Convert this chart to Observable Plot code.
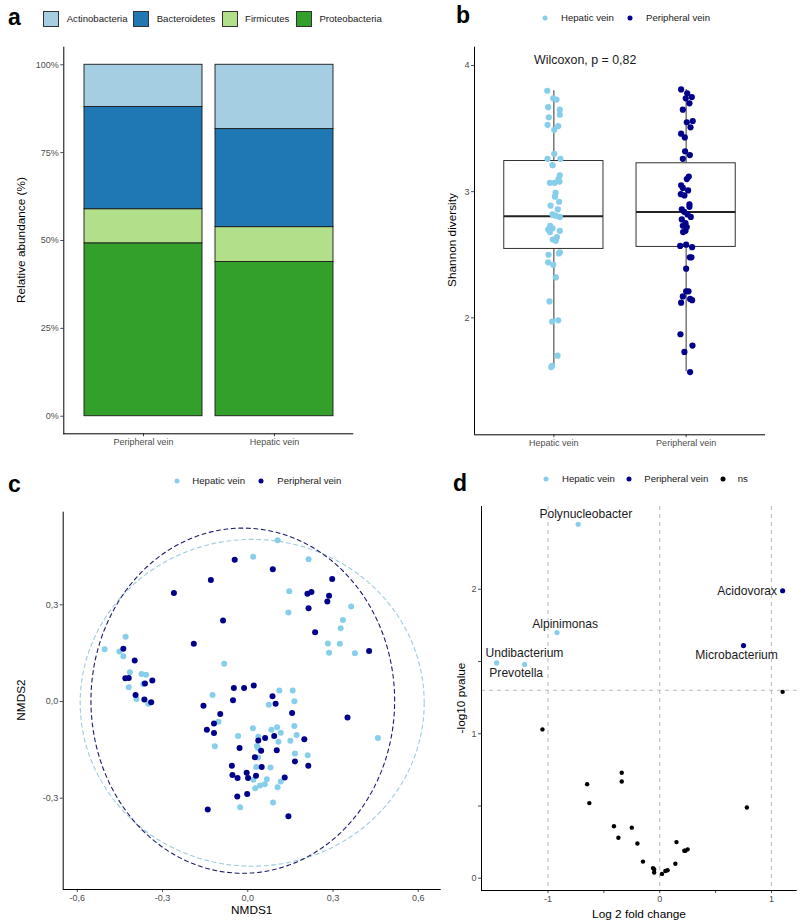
<!DOCTYPE html>
<html><head><meta charset="utf-8">
<script src="https://cdn.jsdelivr.net/npm/d3@7"></script>
<script src="https://cdn.jsdelivr.net/npm/@observablehq/plot@0.6"></script>
<style>
body{margin:0;background:#fff;font-family:"Liberation Sans",Arial,sans-serif;}
#root{position:relative;width:800px;height:924px;overflow:hidden;background:#fff;}
.panel{position:absolute;}
.letter{position:absolute;font-weight:bold;font-size:23px;color:#000;line-height:1;transform:translateY(-50%);}
.leg{position:absolute;font-size:9.6px;color:#1a1a1a;white-space:nowrap;line-height:1;transform:translateY(-50%);}
.sq{position:absolute;width:16px;height:16px;box-sizing:border-box;border:1px solid #333;}
.dotk{position:absolute;width:5px;height:5px;border-radius:50%;transform:translate(-50%,-50%);}
.title{position:absolute;font-size:11.8px;color:#000;white-space:nowrap;line-height:1;transform:translate(-50%,-50%);}
.vtitle{transform:translate(-50%,-50%) rotate(-90deg);}
</style></head>
<body><div id="root"></div>
<script>
// ---------- shared ----------
const groups = ["Hepatic vein", "Peripheral vein"];
const groupColors = ["#87CEEB", "#00008B"];

// ---------- panel a : relative abundance ----------
const phyla = ["Actinobacteria", "Bacteroidetes", "Firmicutes", "Proteobacteria"];
const phylaColors = ["#A6CEE3", "#1F78B4", "#B2DF8A", "#33A02C"];
const samplesA = ["Peripheral vein", "Hepatic vein"];
const abundPeripheral = [12.0, 29.1, 9.7, 49.2];
const abundHepatic = [18.3, 27.9, 9.9, 43.9];
const yTicksA = [0, 25, 50, 75, 100];

// ---------- panel b : Shannon diversity ----------
const hepaticShannon = [3.80,3.74,3.73,3.67,3.65,3.61,3.59,3.53,3.52,3.49,3.30,3.26,3.26,3.21,3.13,3.10,3.07,3.07,3.08,2.99,2.96,2.92,2.89,2.86,2.82,2.81,2.80,2.73,2.71,2.70,2.69,2.68,2.64,2.62,2.61,2.52,2.51,2.50,2.44,2.42,2.32,2.13,1.97,1.98,1.70,1.61,1.62];
const hepaticJitter = [-0.050,-0.005,0.020,-0.043,0.045,0.045,-0.038,-0.048,0.033,0.003,0.003,-0.048,0.050,-0.010,0.045,0.035,-0.030,0.005,0.043,0.013,0.008,0.040,-0.025,0.030,-0.010,0.013,0.045,-0.028,-0.010,-0.043,0.045,-0.030,0.023,-0.008,0.015,0.045,0.038,-0.040,-0.043,-0.005,0.015,-0.033,-0.013,0.033,0.028,-0.020,-0.013];
const peripheralShannon = [3.81,3.78,3.75,3.74,3.70,3.65,3.56,3.55,3.51,3.46,3.43,3.32,3.29,3.26,3.12,3.10,3.05,3.03,3.01,2.98,2.97,2.90,2.88,2.86,2.84,2.82,2.80,2.78,2.75,2.73,2.72,2.69,2.68,2.57,2.58,2.56,2.48,2.48,2.39,2.21,2.21,2.17,2.15,2.14,2.12,1.87,1.78,1.73,1.57];
const peripheralJitter = [-0.038,0.008,0.043,-0.003,0.025,-0.025,0.050,0.005,0.033,-0.038,-0.010,-0.008,0.028,-0.025,0.020,0.005,-0.038,-0.025,0.015,-0.040,-0.013,0.025,0.025,-0.033,-0.015,0.010,0.035,-0.033,-0.005,-0.025,0.005,-0.005,-0.023,-0.045,0.000,0.045,0.028,0.040,0.000,0.018,0.000,-0.025,0.030,0.045,-0.038,-0.043,0.048,-0.013,0.030];
const boxQ1 = [2.546, 2.562];
const boxMedian = [2.805, 2.839];
const boxQ3 = [3.243, 3.225];
const whiskerLow = [1.613, 1.574];
const whiskerHigh = [3.80, 3.81];
const wilcoxLabel = "Wilcoxon, p = 0,82";
const wilcoxPos = [0.85, 4.04];
const yTicksB = [2, 3, 4];

// ---------- panel c : NMDS ----------
const nmdsPeripheral1 = [-0.046,0.088,-0.130,-0.260,0.297,0.210,0.224,0.286,0.280,0.214,-0.087,0.237,-0.190,0.427,-0.438,-0.398,-0.431,-0.419,-0.336,-0.362,-0.395,-0.364,-0.340,-0.049,-0.013,0.021,-0.052,-0.156,0.087,0.098,0.156,0.351,-0.097,-0.119,-0.144,-0.119,0.199,0.037,0.061,0.093,-0.029,0.102,0.047,0.025,0.166,0.213,0.049,-0.056,-0.004,-0.054,0.001,-0.036,0.029,0.130,-0.037,-0.002,-0.141,0.143];
const nmdsPeripheral2 = [0.440,0.410,0.377,0.337,0.380,0.334,0.340,0.328,0.310,0.289,0.251,0.215,0.179,0.157,0.164,0.127,0.072,0.073,0.065,0.056,0.020,0.006,-0.002,0.042,0.042,0.050,0.004,-0.013,0.016,-0.007,-0.036,-0.050,-0.039,-0.068,-0.088,-0.098,-0.117,-0.121,-0.113,-0.107,-0.144,-0.151,-0.153,-0.173,-0.186,-0.199,-0.203,-0.199,-0.221,-0.228,-0.237,-0.237,-0.230,-0.236,-0.295,-0.287,-0.335,-0.356];
const nmdsHepatic1 = [0.105,0.019,0.214,0.146,0.143,0.364,0.335,0.327,0.282,0.324,0.286,0.377,-0.083,-0.504,-0.430,-0.452,-0.438,-0.415,-0.374,-0.358,-0.368,-0.419,-0.392,-0.350,-0.124,0.111,0.158,0.164,0.074,-0.103,0.018,0.083,0.103,0.116,0.164,0.172,-0.034,0.037,0.150,0.108,0.032,0.036,-0.116,0.166,0.211,0.036,0.030,0.080,0.067,0.116,0.020,0.105,0.060,0.043,0.026,0.089,-0.027,0.458];
const nmdsHepatic2 = [0.500,0.449,0.441,0.342,0.276,0.295,0.253,0.227,0.180,0.179,0.151,0.150,0.117,0.162,0.201,0.155,0.140,0.091,0.085,0.083,0.054,0.044,0.008,-0.007,0.020,0.034,0.034,0.001,-0.010,-0.063,-0.083,-0.088,-0.080,-0.097,-0.076,-0.104,-0.107,-0.109,-0.122,-0.125,-0.138,-0.144,-0.139,-0.161,-0.167,-0.174,-0.203,-0.205,-0.241,-0.248,-0.243,-0.266,-0.257,-0.261,-0.269,-0.313,-0.328,-0.113];
// 95% ellipses (hepatic, peripheral)
const ellipseCenterX = [0.0155, -0.0175];
const ellipseCenterY = [-0.004, 0.0025];
const ellipseRadiusX = [0.6055, 0.5345];
const ellipseRadiusY = [0.507, 0.5355];
const ticksC = [-0.6, -0.3, 0, 0.3, 0.6];

// ---------- panel d : volcano ----------
const sigGenus = ["Polynucleobacter", "Acidovorax", "Alpinimonas", "Microbacterium", "Undibacterium", "Prevotella"];
const sigLog2FC = [-0.73, 1.10, -0.92, 0.75, -1.46, -1.21];
const sigLogP = [2.45, 1.99, 1.70, 1.61, 1.49, 1.48];
const sigGroup = ["Hepatic vein", "Peripheral vein", "Hepatic vein", "Peripheral vein", "Hepatic vein", "Hepatic vein"];
const labelLog2FC = [-0.662, 0.782, -0.847, 0.688, -1.211, -1.285];
const labelLogP = [2.517, 1.989, 1.761, 1.541, 1.555, 1.417];
const nsLog2FC = [1.10,-1.05,-0.34,-0.34,-0.65,-0.63,0.78,-0.41,-0.25,-0.37,-0.20,0.15,0.23,0.25,0.22,-0.15,0.14,-0.05,-0.05,0.05,0.07,0.02,-0.06];
const nsLogP = [1.29,1.03,0.73,0.67,0.65,0.52,0.49,0.36,0.35,0.28,0.24,0.25,0.19,0.20,0.19,0.115,0.10,0.06,0.04,0.05,0.055,0.03,0.07];
const foldThresholds = [-1, 0, 1];
const pThreshold = 0.05;

// ================= build =================
const root = document.getElementById("root");
function place(el, left, top) { el.classList.add("panel"); el.style.left = left + "px"; el.style.top = top + "px"; root.appendChild(el); }
function addDiv(cls, text, x, y, extra) {
  const d = document.createElement("div"); d.className = cls; if (text != null) d.textContent = text;
  d.style.left = x + "px"; d.style.top = y + "px"; if (extra) Object.assign(d.style, extra); root.appendChild(d); return d;
}
const comma = (d, n) => d.toFixed(n).replace(".", ",").replace("\u2212", "-");
const axisStyle = {tickSize: 3, tickPadding: 2, fontSize: 9, color: "#4d4d4d", label: null};

// ---- panel a ----
const tableA = [];
samplesA.forEach((s, si) => {
  const vals = si === 0 ? abundPeripheral : abundHepatic;
  for (let i = phyla.length - 1; i >= 0; i--) tableA.push({sample: s, phylum: phyla[i], value: vals[i]});
});
const plotA = Plot.plot({
  width: 400, height: 460,
  marginLeft: 63.3, marginRight: 46.7, marginTop: 46.7, marginBottom: 26.7,
  style: {fontFamily: "Liberation Sans, Arial, sans-serif", background: "transparent"},
  x: {type: "band", domain: samplesA, paddingInner: 0.1, paddingOuter: 0.15},
  y: {domain: [-5, 105]},
  color: {domain: phyla, range: phylaColors},
  marks: [
    Plot.barY(tableA, {x: "sample", y: "value", fill: "phylum", stroke: "#1a1a1a", strokeWidth: 0.9}),
    Plot.axisY({...axisStyle, ticks: yTicksA, tickFormat: d => d + "%"}),
    Plot.axisX({...axisStyle}),
    Plot.ruleY([-5], {stroke: "#000", strokeWidth: 1}),
    Plot.frame({anchor: "left", stroke: "#000", strokeWidth: 1})
  ]
});
place(plotA, 0, 0);

// ---- panel b ----
const pointsB = [];
hepaticShannon.forEach((v, i) => pointsB.push({group: groups[0], pos: 1, jit: hepaticJitter[i], value: v}));
peripheralShannon.forEach((v, i) => pointsB.push({group: groups[1], pos: 2, jit: peripheralJitter[i], value: v}));
const boxes = groups.map((g, i) => ({group: g, pos: i + 1, q1: boxQ1[i], med: boxMedian[i], q3: boxQ3[i], lo: whiskerLow[i], hi: whiskerHigh[i]}));
const boxHalf = 0.375;
const plotB = Plot.plot({
  width: 400, height: 460,
  marginLeft: 74, marginRight: 35, marginTop: 46.7, marginBottom: 25.7,
  style: {fontFamily: "Liberation Sans, Arial, sans-serif", background: "transparent"},
  x: {domain: [0.4, 2.6]},
  y: {domain: [1.073, 4.145]},
  color: {domain: groups, range: groupColors},
  marks: [
    Plot.ruleX(boxes, {x: "pos", y1: "lo", y2: "hi", stroke: "#333", strokeWidth: 1}),
    Plot.rect(boxes, {x1: d => d.pos - boxHalf, x2: d => d.pos + boxHalf, y1: "q1", y2: "q3", fill: "white", stroke: "#333", strokeWidth: 1}),
    Plot.ruleY(boxes, {y: "med", x1: d => d.pos - boxHalf, x2: d => d.pos + boxHalf, stroke: "#222", strokeWidth: 2}),
    Plot.dot(pointsB, {x: d => d.pos + d.jit, y: "value", fill: "group", r: 3.1}),
    Plot.text([wilcoxLabel], {x: wilcoxPos[0], y: wilcoxPos[1], text: d => d, textAnchor: "start", fontSize: 12.4, fill: "#1a1a1a"}),
    Plot.axisY({...axisStyle, ticks: yTicksB, tickFormat: d => String(d)}),
    Plot.axisX({...axisStyle, ticks: [1, 2], tickFormat: d => groups[d - 1]}),
    Plot.ruleX([0.4], {stroke: "#000"}),
    Plot.ruleY([1.073], {stroke: "#000"})
  ]
});
place(plotB, 400, 0);

// ---- panel c ----
const pointsC = [];
nmdsHepatic1.forEach((v, i) => pointsC.push({group: groups[0], x: v, y: nmdsHepatic2[i]}));
nmdsPeripheral1.forEach((v, i) => pointsC.push({group: groups[1], x: v, y: nmdsPeripheral2[i]}));
const ellipsePts = [];
groups.forEach((g, gi) => {
  for (let a = 0; a <= 360; a += 2) {
    const t = a * Math.PI / 180;
    ellipsePts.push({group: g, x: ellipseCenterX[gi] + ellipseRadiusX[gi] * Math.cos(t), y: ellipseCenterY[gi] + ellipseRadiusY[gi] * Math.sin(t)});
  }
});
const plotC = Plot.plot({
  width: 450, height: 464,
  marginLeft: 62.7, marginRight: 9.3, marginTop: 51.7, marginBottom: 35,
  style: {fontFamily: "Liberation Sans, Arial, sans-serif", background: "transparent", overflow: "visible"},
  x: {domain: [-0.6497, 0.6808]},
  y: {domain: [-0.5833, 0.5873]},
  color: {domain: groups, range: groupColors},
  marks: [
    Plot.dot(pointsC, {x: "x", y: "y", fill: "group", r: 3}),
    Plot.line(ellipsePts, {x: "x", y: "y", z: "group", stroke: d => d.group === groups[0] ? "#9ecbe0" : "#1c1c6e", strokeWidth: 1.1, strokeDasharray: "4,3.5"}),
    Plot.axisY({...axisStyle, ticks: [-0.3, 0, 0.3], tickFormat: d => comma(d, 1)}),
    Plot.axisX({...axisStyle, ticks: ticksC, tickFormat: d => comma(d, 1)}),
    Plot.ruleX([-0.6497], {stroke: "#000"}),
    Plot.ruleY([-0.5833], {stroke: "#000"})
  ]
});
place(plotC, 0, 460);

// ---- panel d ----
const sigTable = sigGenus.map((g, i) => ({genus: g, fc: sigLog2FC[i], p: sigLogP[i], group: sigGroup[i], lx: labelLog2FC[i], ly: labelLogP[i]}));
const nsTable = nsLog2FC.map((v, i) => ({fc: v, p: nsLogP[i]}));
const plotD = Plot.plot({
  width: 350, height: 464,
  marginLeft: 31, marginRight: 3.3, marginTop: 46, marginBottom: 34,
  style: {fontFamily: "Liberation Sans, Arial, sans-serif", background: "transparent", overflow: "visible"},
  x: {domain: [-1.5955, 1.2306]},
  y: {domain: [-0.085, 2.573]},
  color: {domain: groups, range: groupColors},
  marks: [
    Plot.ruleX(foldThresholds, {stroke: "#b8b8b8", strokeDasharray: "4,4", strokeWidth: 1}),
    Plot.ruleY([-Math.log10(pThreshold)], {stroke: "#b8b8b8", strokeDasharray: "4,4", strokeWidth: 1}),
    Plot.dot(nsTable, {x: "fc", y: "p", fill: "#000", r: 2.2}),
    Plot.dot(sigTable, {x: "fc", y: "p", fill: "group", r: 2.6}),
    Plot.text(sigTable, {x: "lx", y: "ly", text: "genus", fontSize: 12.1, fill: "#1a1a1a"}),
    Plot.axisY({...axisStyle, ticks: [0, 0.5, 1, 1.5, 2], tickFormat: d => Number.isInteger(d) ? String(d) : ""}),
    Plot.axisX({...axisStyle, ticks: [-1, -0.5, 0, 0.5, 1], tickFormat: d => Number.isInteger(d) ? String(d).replace("\u2212", "-") : ""}),
    Plot.ruleX([-1.5955], {stroke: "#000"}),
    Plot.ruleY([-0.085], {stroke: "#000"})
  ]
});
place(plotD, 450, 460);

// ---- axis titles ----
addDiv("title vtitle", "Relative abundance (%)", 22, 240);
addDiv("title vtitle", "Shannon diversity", 453, 240);
addDiv("title vtitle", "NMDS2", 22, 700);
addDiv("title", "NMDS1", 251.7, 911);
addDiv("title vtitle", "-log10 pvalue", 462, 698);
addDiv("title", "Log 2 fold change", 639, 915);

// ---- panel letters ----
addDiv("letter", "a", 8, 17);
addDiv("letter", "b", 456, 15);
addDiv("letter", "c", 8, 484);
addDiv("letter", "d", 453, 483);

// ---- legend a ----
const legAx = [43.3, 133.3, 221.7, 296];
phyla.forEach((p, i) => {
  addDiv("sq", null, legAx[i], 10.5, {background: phylaColors[i]});
  addDiv("leg", p, legAx[i] + 23.4, 19);
});
// ---- dot legends ----
function dotLegend(items, y) {
  items.forEach(([label, color, dx, tx]) => {
    addDiv("dotk", null, dx, y, {background: color});
    addDiv("leg", label, tx, y);
  });
}
dotLegend([[groups[0], groupColors[0], 545, 561], [groups[1], groupColors[1], 630, 646]], 18);
dotLegend([[groups[0], groupColors[0], 176.7, 192.3], [groups[1], groupColors[1], 261, 277.3]], 481);
dotLegend([[groups[0], groupColors[0], 546, 562], [groups[1], groupColors[1], 629, 644.3], ["ns", "#000", 722.7, 737.7]], 479);
</script>
</body></html>
